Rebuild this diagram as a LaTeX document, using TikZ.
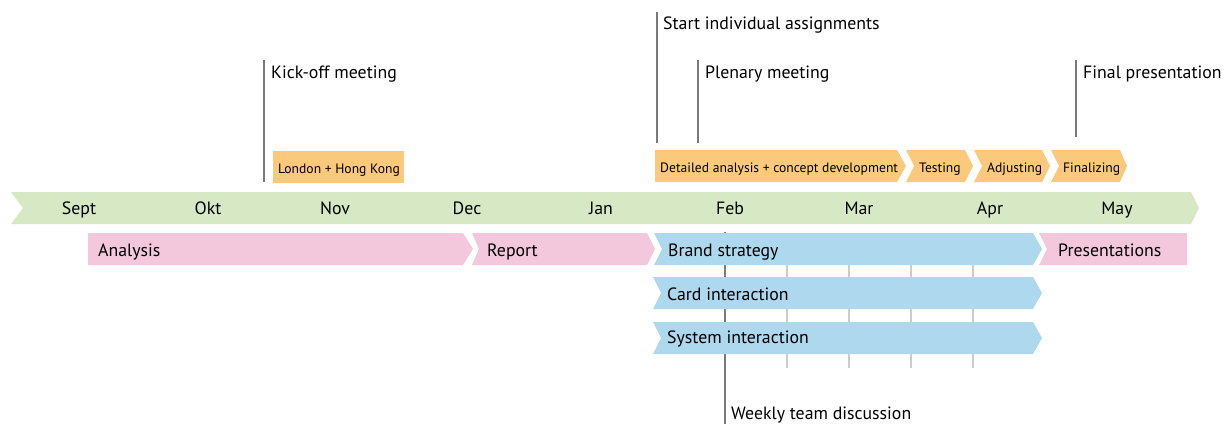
\documentclass[tikz,border=0pt]{standalone}
\usepackage{fontspec}
\setmainfont{PT Sans}
\definecolor{cgreen}{HTML}{D6E8C4}
\definecolor{cpink}{HTML}{F3C7DC}
\definecolor{cblue}{HTML}{ADD8ED}
\definecolor{corange}{HTML}{FBC97B}
\definecolor{cdark}{HTML}{7A7A7A}
\definecolor{clight}{HTML}{CCCCCC}
% \chev{x1}{x2}{ytop}{ybot}{notch}{tip}{color}
\newcommand{\chev}[7]{%
  \fill[#7] (#1,#3) -- (#2,#3) -- ({#2+#6},{(#3+#4)/2}) -- (#2,#4) -- (#1,#4) -- ({#1+#5},{(#3+#4)/2}) -- cycle;}
\tikzset{
  month/.style={anchor=base, font=\fontsize{17.8}{17.8}\selectfont, inner sep=0},
  barlabel/.style={anchor=base west, font=\fontsize{17.8}{17.8}\selectfont, inner sep=0},
  small/.style={anchor=base west, font=\fontsize{13.6}{13.6}\selectfont, inner sep=0},
  event/.style={anchor=base west, font=\fontsize{17.8}{17.8}\selectfont, inner sep=0},
  darkline/.style={draw=cdark, line width=1.2pt},
  lightline/.style={draw=clight, line width=1.2pt},
}
\begin{document}
\begin{tikzpicture}[x=1pt,y=-1pt]
\useasboundingbox (0,0) rectangle (1228,424);
% lines behind
\coordinate (w1) at (725,232); \coordinate (w2) at (725,424);
\draw[darkline] (w1) -- (w2);
\foreach \xx in {787,849,911,973}{\draw[lightline] (\xx,265) -- (\xx,368);}
% timeline
\chev{11}{1191}{192}{224}{12}{8}{cgreen}
\foreach \m/\xx in {Sept/79,Okt/208,Nov/335,Dec/467,Jan/601,Feb/730,Mar/859,Apr/990,May/1117}
  {\node[month] (m\m) at (\xx,214) {\m};}
% phases
\chev{88}{463}{233}{265}{0}{10}{cpink}
\chev{472}{647}{233}{265}{7}{8}{cpink}
\chev{654}{1033}{233}{265}{8}{9}{cblue}
\chev{1039}{1187}{233}{265}{8}{0}{cpink}
\chev{653}{1033}{277}{309}{8}{9}{cblue}
\chev{653}{1033}{322}{354}{8}{9}{cblue}
\node[barlabel] (analysis) at (98,256) {Analysis};
\node[barlabel] (report) at (487,256) {Report};
\node[barlabel] (brand) at (668,256) {Brand strategy};
\node[barlabel] (pres) at (1058,256) {Presentations};
\node[barlabel] (card) at (667,300) {Card interaction};
\node[barlabel] (system) at (667,343) {System interaction};
% orange
\fill[corange] (273,151) rectangle (404,183);
\node[small] (lhk) at (278,173) {London + Hong Kong};
\chev{655}{897}{150}{182}{0}{9}{corange}
\chev{906}{965}{150}{182}{8}{8}{corange}
\chev{974}{1042}{150}{182}{8}{8}{corange}
\chev{1051}{1120}{150}{182}{8}{7}{corange}
\node[small] (det) at (660,172) {Detailed analysis + concept development};
\node[small] (test) at (919,172) {Testing};
\node[small] (adj) at (987,172) {Adjusting};
\node[small] (fin) at (1063,172) {Finalizing};
% events
\coordinate (k1) at (264,60); \coordinate (k2) at (264,182);
\draw[darkline] (k1) -- (k2);
\node[event] (kick) at (271,78) {Kick-off meeting};
\coordinate (s1) at (657,12); \coordinate (s2) at (657,143);
\draw[darkline] (s1) -- (s2);
\node[event] (start) at (663,29) {Start individual assignments};
\coordinate (p1) at (698,60); \coordinate (p2) at (698,143);
\draw[darkline] (p1) -- (p2);
\node[event] (plen) at (705,78) {Plenary meeting};
\coordinate (f1) at (1076,60); \coordinate (f2) at (1076,137);
\draw[darkline] (f1) -- (f2);
\node[event] (final) at (1083,78) {Final presentation};
\node[event] (weekly) at (731,419) {Weekly team discussion};
\end{tikzpicture}
\end{document}
